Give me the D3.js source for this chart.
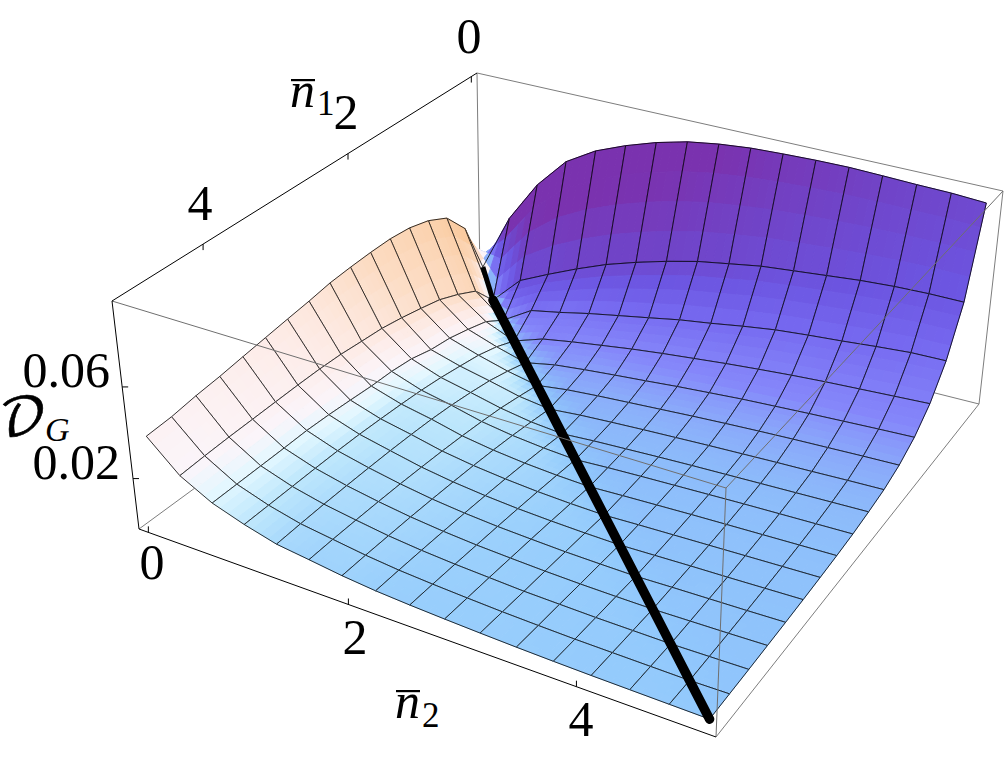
<!DOCTYPE html>
<html><head><meta charset="utf-8">
<style>html,body{margin:0;padding:0;background:#fff}svg{display:block}text{font-family:"Liberation Serif",serif;fill:#000}</style>
<script src="https://cdn.jsdelivr.net/npm/d3@7"></script>
</head><body><svg id="c" width="1005" height="767"></svg>
<script>
// mesh coordinates shared by both axes
const meshN = [0,0.3125,0.625,0.9375,1.25,1.5625,1.875,2.1875,2.5,2.8125,3.125,3.4375,3.75,4.0625,4.375,4.6875,5];
// D_G: one row per n1 value, one column per n2 value
const z00=[.0067,.0333,.0526,.067,.0754,.0812,.086,.0897,.092,.0935,.0942,.0947,.0949,.0945,.094,.0937,.0928];
const z01=[.031,0,.0127,.019,.025,.0305,.035,.039,.0425,.045,.0475,.049,.0505,.052,.053,.0535,.0535];
const z02=[.0419,.0104,0,.008,.0106,.0136,.0162,.0188,.0215,.0236,.026,.0281,.0295,.0307,.0321,.0333,.0336];
const z03=[.0466,.015,.0056,0,.0045,.0068,.0088,.0108,.0125,.014,.0155,.0168,.018,.019,.0198,.0206,.0214];
const z04=[.0492,.0188,.0084,.0038,0,.0027,.0042,.0055,.0067,.008,.0091,.0102,.011,.0118,.0125,.0132,.0138];
const z05=[.0502,.0211,.0108,.0065,.0028,0,.0018,.0029,.0038,.0047,.0056,.0064,.0071,.0077,.0082,.0087,.0091];
const z06=[.0501,.0232,.0121,.0082,.0052,.0019,0,.0012,.002,.0027,.0033,.0039,.0044,.0049,.0053,.0058,.0062];
const z07=[.0496,.0249,.0146,.0098,.0068,.0036,.0013,0,.0009,.0015,.0021,.0026,.003,.0034,.0038,.0042,.0046];
const z08=[.0488,.0257,.0157,.011,.0081,.0047,.0025,.001,0,.0007,.0012,.0016,.002,.0024,.0027,.003,.0033];
const z09=[.0471,.0266,.016,.0118,.009,.0056,.0034,.0018,.0007,0,.0005,.0009,.0013,.0016,.0019,.0022,.0025];
const z10=[.0457,.0269,.0168,.0124,.0095,.0063,.0041,.0025,.0013,.0005,0,.0004,.0007,.001,.0013,.0016,.0019];
const z11=[.0442,.0268,.0175,.0129,.0098,.0068,.0046,.003,.0018,.001,.0004,0,.0003,.0006,.0008,.0011,.0014];
const z12=[.0427,.0265,.0179,.0131,.0099,.0072,.005,.0034,.0022,.0014,.0007,.0003,0,.0003,.0005,.0007,.001];
const z13=[.0411,.0262,.0177,.0131,.0099,.0074,.0053,.0037,.0025,.0017,.001,.0005,.0002,0,.0002,.0004,.0007];
const z14=[.0399,.0259,.0176,.013,.0098,.0075,.0054,.0039,.0028,.002,.0012,.0008,.0004,.0002,0,.0002,.0004];
const z15=[.0382,.0254,.0175,.0129,.0095,.0075,.0055,.004,.003,.0022,.0015,.001,.0006,.0004,.0002,0,.0002];
const z16=[.0374,.0247,.0174,.0128,.0091,.0073,.0054,.004,.0031,.0024,.0018,.0013,.0009,.0006,.0004,.0002,0];
const zRows=[z00,z01,z02,z03,z04,z05,z06,z07,z08,z09,z10,z11,z12,z13,z14,z15,z16];
const n1Ticks=[0,2,4], n2Ticks=[0,2,4], zTicks=[0.02,0.06];
const zTickLabels=["0.02","0.06"];

const svg=d3.select("#c");
// box: floor and top corners, as (n1 low/high, n2 low/high)
const floor={a:[480,279],b:[139,529],c:[979,404],d:[716,737]};
const top_={a:[477,73],b:[112,301],c:[1003,191],d:[726,488]};
function homo(q){ // unit square -> quad : (u=n1,v=n2) a(0,0) b(1,0) c(0,1) d(1,1)
  const [x0,y0]=q.a,[x1,y1]=q.b,[x3,y3]=q.c,[x2,y2]=q.d;
  const dx1=x1-x2,dx2=x3-x2,sx=x0-x1+x2-x3,dy1=y1-y2,dy2=y3-y2,sy=y0-y1+y2-y3;
  const den=dx1*dy2-dx2*dy1,g=(sx*dy2-dx2*sy)/den,h=(dx1*sy-sx*dy1)/den;
  const A=x1-x0+g*x1,B=x3-x0+h*x3,D=y1-y0+g*y1,E=y3-y0+h*y3;
  return (u,v)=>{const w=g*u+h*v+1;return [(A*u+B*v+x0)/w,(D*u+E*v+y0)/w];};
}
const hF=homo(floor),hT=homo(top_);
const sN=d3.scaleLinear().domain([-0.1,5.1]).range([0,1]);
const sZ=d3.scaleLinear().domain([-0.002,0.0975]).range([0,1]);
function P(n1,n2,z){const u=sN(n1),v=sN(n2),t=sZ(z),a=hF(u,v),b=hT(u,v);return [a[0]+(b[0]-a[0])*t,a[1]+(b[1]-a[1])*t];}
function U(u,v,t){const a=hF(u,v),b=hT(u,v);return [a[0]+(b[0]-a[0])*t,a[1]+(b[1]-a[1])*t];}
const line=d3.line();
function edge(p,q,col,w){svg.append("path").attr("d",line([p,q])).attr("fill","none").attr("stroke",col).attr("stroke-width",w);}

// back box edges
const grey="#7d7d7d";
edge(U(0,0,1),U(0,0,0),grey,1);
edge(U(0,0,0),U(1,0,0),grey,1);
edge(U(0,0,0),U(0,1,0),grey,1);
edge(U(0,0,1),U(0,1,1),grey,1);
edge(U(0,1,1),U(0,1,0),grey,1);
edge(U(0,1,0),U(1,1,0),grey,1);

// shading value from the local slope
const N=meshN.length;
function slope(i,j){
  const i0=Math.max(i-1,0),i1=Math.min(i+1,N-1),j0=Math.max(j-1,0),j1=Math.min(j+1,N-1);
  const d1=(zRows[i1][j]-zRows[i0][j])/(meshN[i1]-meshN[i0]);
  const d2=(zRows[i][j1]-zRows[i][j0])/(meshN[j1]-meshN[j0]);
  return d2-d1;
}
const shade=d3.scaleLinear()
 .domain([-0.13,-0.08,-0.05,-0.03,-0.02,-0.012,-0.004,0,0.006,0.012,0.025,0.06,0.10,0.13,0.16])
 .range(["rgb(250,203,160)","rgb(252,220,195)","rgb(253,236,232)","rgb(251,245,250)","rgb(226,247,255)","rgb(188,230,252)","rgb(155,208,252)","rgb(145,200,252)","rgb(140,185,250)","rgb(138,170,250)","rgb(133,135,250)","rgb(118,105,240)","rgb(108,85,225)","rgb(112,68,200)","rgb(122,50,175)"])
 .clamp(true);

const sub=4, gSurf=svg.append("g");
const bil=(a,b,c,d,s,t)=>a*(1-s)*(1-t)+b*s*(1-t)+c*(1-s)*t+d*s*t;
for(let i=0;i<N-1;i++)for(let j=0;j<N-1;j++){
  const Z=[zRows[i][j],zRows[i+1][j],zRows[i][j+1],zRows[i+1][j+1]];
  const S=[slope(i,j),slope(i+1,j),slope(i,j+1),slope(i+1,j+1)];
  const pt=(s,t)=>P(meshN[i]+s*(meshN[i+1]-meshN[i]),meshN[j]+t*(meshN[j+1]-meshN[j]),bil(Z[0],Z[1],Z[2],Z[3],s,t));
  for(let a=0;a<sub;a++)for(let b=0;b<sub;b++){
    const s0=a/sub,s1=(a+1)/sub,t0=b/sub,t1=(b+1)/sub;
    const col=shade(bil(S[0],S[1],S[2],S[3],(s0+s1)/2,(t0+t1)/2));
    gSurf.append("path").attr("d",line([pt(s0,t0),pt(s1,t0),pt(s1,t1),pt(s0,t1)])+"Z")
      .attr("fill",col).attr("stroke",col).attr("stroke-width",1);
  }
  const mesh=[[pt(0,0),pt(1,0)],[pt(0,0),pt(0,1)],[pt(1,0),pt(1,1)],[pt(0,1),pt(1,1)]];
  mesh.forEach(m=>gSurf.append("path").attr("d",line(m)).attr("fill","none").attr("stroke","#000").attr("stroke-width",0.8));
}

// diagonal curve
const diag=meshN.map((n,k)=>P(n,n,zRows[k][k]));
svg.append("path").attr("d",line(diag.slice(0,2))).attr("fill","none").attr("stroke","#000").attr("stroke-width",5);
svg.append("path").attr("d",line(diag.slice(1))).attr("fill","none").attr("stroke","#000").attr("stroke-width",9.5).attr("stroke-linecap","round");

// front box edges
const fg="#6f6f6f";
[[U(1,0,1),U(1,1,1)],[U(0,1,1),U(1,1,1)],[U(1,1,1),U(1,1,0)]].forEach(e=>edge(e[0],e[1],fg,1));

// axes
edge(U(0,0,1),U(1,0,1),"#000",1);
edge(U(1,0,1),U(1,0,0),"#000",1);
edge(U(1,0,0),U(1,1,0),"#000",1);
n1Ticks.forEach(n=>{const p=U(sN(n),0,1);edge(p,[p[0],p[1]+6],"#000",1);});
n2Ticks.forEach(n=>{const p=U(1,sN(n),0);edge(p,[p[0],p[1]-6],"#000",1);});
zTicks.forEach(z=>{const p=U(1,0,sZ(z));edge(p,[p[0]+6,p[1]],"#000",1);});

function txt(x,y,s,size,opt={}){const t=svg.append("text").attr("x",x).attr("y",y).attr("font-size",size).attr("text-anchor",opt.anchor||"middle").text(s);
  if(opt.italic)t.attr("font-style","italic"); if(opt.family)t.style("font-family",opt.family);return t;}
const n1Lab=[[469,53],[346,129],[200,220]], n2Lab=[[152,579],[355,654],[581,736]];
n1Ticks.forEach((n,k)=>txt(n1Lab[k][0],n1Lab[k][1],String(n),50));
n2Ticks.forEach((n,k)=>txt(n2Lab[k][0],n2Lab[k][1],String(n),50));
txt(120,479,zTickLabels[0],50,{anchor:"end"});
txt(110,387,zTickLabels[1],50,{anchor:"end"});
// axis titles
function nbar(x,y,sub_,sx,sy){txt(x,y,"n",50,{italic:true,anchor:"start"});
  svg.append("rect").attr("x",x+1).attr("y",y-28).attr("width",24).attr("height",2.2).attr("fill","#000");
  txt(sx,sy,sub_,35,{anchor:"start"});}
nbar(290,107,"1",317,115);
nbar(395,718,"2",422,727);
txt(-1,435,"\u{1D49F}",52,{anchor:"start",family:'"DejaVu Math TeX Gyre","DejaVu Serif","DejaVu Sans",serif'}).style("stroke","#000").style("stroke-width",0.6);
txt(45,441,"G",34,{anchor:"start",italic:true});
</script></body></html>
